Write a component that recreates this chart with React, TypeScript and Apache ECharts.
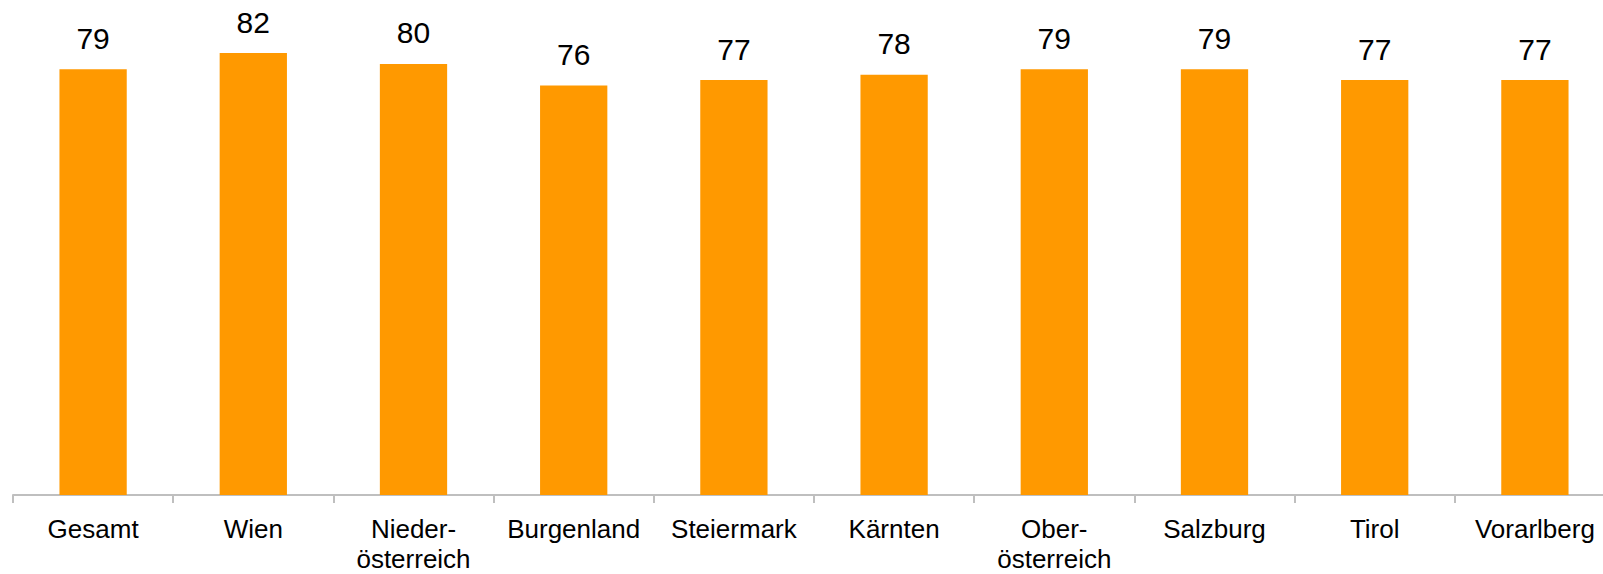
import React, { useEffect, useRef } from "react";
import * as echarts from "echarts";

const categories = [
  "Gesamt",
  "Wien",
  "Nieder-\nösterreich",
  "Burgenland",
  "Steiermark",
  "Kärnten",
  "Ober-\nösterreich",
  "Salzburg",
  "Tirol",
  "Vorarlberg",
];
const values = [79, 82, 80, 76, 77, 78, 79, 79, 77, 77];

export default function App() {
  const ref = useRef<HTMLDivElement>(null);
  useEffect(() => {
    if (!ref.current) return;
    const chart = echarts.init(ref.current, null, { renderer: "svg" });
    chart.setOption({
      animation: false,
      backgroundColor: "#ffffff",
      grid: { left: 13, top: 10, width: 1602, height: 488, containLabel: false },
      xAxis: {
        type: "category",
        data: categories,
        axisLine: { show: true, lineStyle: { color: "#bfbfbf", width: 2 } },
        axisTick: { show: true, length: 8, alignWithLabel: false, lineStyle: { color: "#bfbfbf", width: 2 } },
        axisLabel: {
          color: "#000000",
          fontFamily: "Liberation Sans, Arial, sans-serif",
          fontSize: 26,
          lineHeight: 30,
          margin: 19,
          interval: 0,
        },
      },
      yAxis: {
        type: "value",
        min: 0,
        max: 90,
        show: false,
        splitLine: { show: false },
      },
      series: [
        {
          type: "bar",
          data: values,
          barWidth: "42%",
          itemStyle: { color: "#ff9900" },
          label: {
            show: true,
            position: "top",
            distance: 16,
            color: "#000000",
            fontFamily: "Liberation Sans, Arial, sans-serif",
            fontSize: 30,
          },
        },
      ],
    });
    return () => chart.dispose();
  }, []);
  return (
    <div
      style={{
        position: "absolute",
        left: 0,
        top: 0,
        width: 1603,
        height: 574,
        overflow: "hidden",
        background: "#ffffff",
      }}
    >
      <div ref={ref} style={{ width: 1630, height: 574 }} />
    </div>
  );
}
